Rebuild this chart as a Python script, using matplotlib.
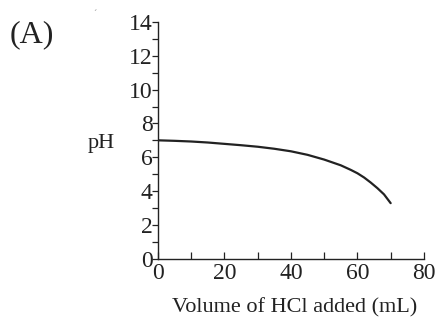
import matplotlib.pyplot as plt
from matplotlib.ticker import MultipleLocator

plt.rcParams["font.family"] = ["Liberation Serif", "DejaVu Serif"]

# values
VOLUME = [0, 5, 10, 15, 20, 25, 30, 35, 40, 45, 50, 55, 58, 60, 62, 64, 66, 68, 70]
PH = [7.0, 6.97, 6.93, 6.87, 6.79, 6.71, 6.62, 6.50, 6.35, 6.14, 5.86, 5.52, 5.25, 5.05,
      4.80, 4.50, 4.17, 3.80, 3.28]

X_TICKS = [0, 20, 40, 60, 80]
Y_TICKS = [0, 2, 4, 6, 8, 10, 12, 14]
INK = "#222222"

fig = plt.figure(figsize=(4.37, 3.2), dpi=100)
ax = fig.add_axes([0.3616, 0.192, 0.6084, 0.739])

ax.plot(VOLUME, PH, color=INK, lw=1.6, solid_capstyle="round")

ax.set_xlim(0, 80)
ax.set_ylim(0, 14)
ax.set_xticks(X_TICKS)
ax.set_yticks(Y_TICKS)
ax.xaxis.set_minor_locator(MultipleLocator(10))
ax.yaxis.set_minor_locator(MultipleLocator(1))

for side in ("top", "right"):
    ax.spines[side].set_visible(False)
for side in ("left", "bottom"):
    ax.spines[side].set_color(INK)
    ax.spines[side].set_linewidth(1.0)

ax.tick_params(axis="x", which="both", direction="in", length=5, width=0.9, colors=INK,
               labelsize=17, pad=3)
ax.tick_params(axis="y", which="both", direction="out", length=4, width=0.9, colors=INK,
               labelsize=17, pad=0)

fig.text(0.675, 0.038, "Volume of HCl added (mL)", fontsize=16, color=INK,
         ha="center", va="center")
fig.text(0.231, 0.553, "pH", fontsize=16, color=INK, ha="center", va="center")
fig.text(0.072, 0.89, "(A)", fontsize=23, color=INK, ha="center", va="center")
fig.text(0.218, 0.955, "\u00b4", fontsize=7, color="#888888", ha="center", va="center")

fig.savefig("out.png", dpi=100)
